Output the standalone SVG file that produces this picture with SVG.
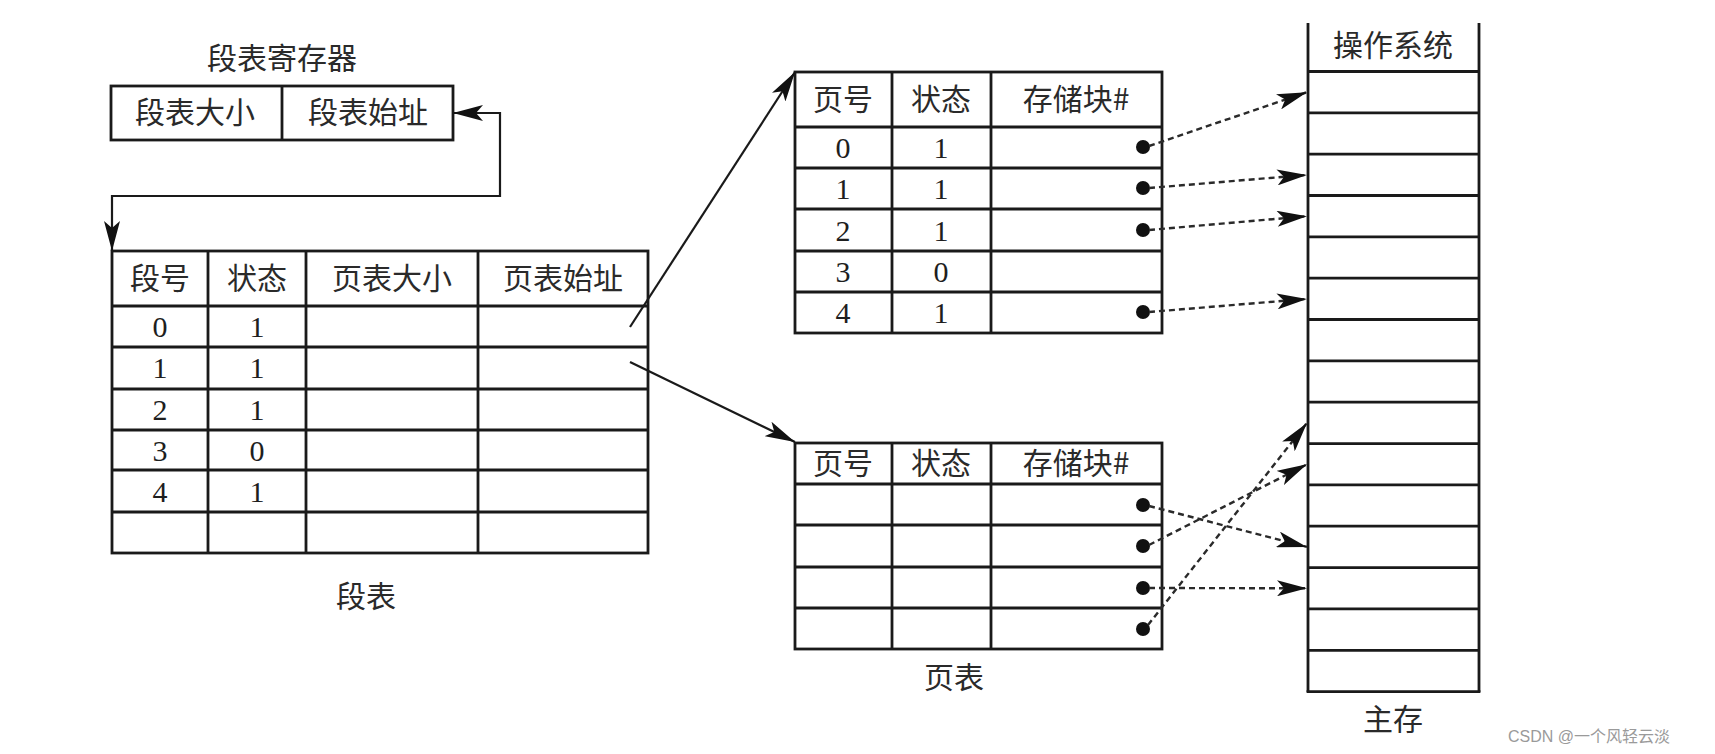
<svg xmlns="http://www.w3.org/2000/svg" width="1715" height="754" viewBox="0 0 1715 754">
<style>
.bg{fill:#ffffff}
.cell{fill:none;stroke:#1a1a1a;stroke-width:2.8}
.ln{stroke:#1a1a1a;stroke-width:2.8}
.cn{font-family:"Noto Sans CJK SC","Noto Sans",sans-serif;font-size:30px;fill:#2a2a2a;text-anchor:middle}
.num{font-family:"Liberation Serif","DejaVu Serif",serif;font-size:30px;fill:#1e1e1e;text-anchor:middle}
.conn{fill:none;stroke:#1a1a1a;stroke-width:2.2}
.dash{fill:none;stroke:#2a2a2a;stroke-width:2.4;stroke-dasharray:6 4}
.dot{fill:#111}
.wm{font-family:"Liberation Sans","Noto Sans CJK SC",sans-serif;font-size:16px;fill:#9a9a9a}
</style>
<defs>
<marker id="ah" viewBox="0 0 30 16" refX="30" refY="8" markerWidth="30" markerHeight="16" markerUnits="userSpaceOnUse" orient="auto-start-reverse">
<path d="M0,0 L30,8 L0,16 L7,8 Z" fill="#111"/>
</marker>
</defs>
<rect class="bg" x="0" y="0" width="1715" height="754"/>

<g id="seg-register">
<text class="cn" x="282" y="69">段表寄存器</text>
<rect class="cell" x="111" y="86" width="342" height="54"/>
<line class="ln" x1="282" y1="86" x2="282" y2="140"/>
<text class="cn" x="195" y="123">段表大小</text>
<text class="cn" x="368" y="123">段表始址</text>
</g>

<g id="seg-table">
<rect class="cell" x="112" y="251" width="536" height="302"/>
<line class="ln" x1="208" y1="251" x2="208" y2="553"/>
<line class="ln" x1="306" y1="251" x2="306" y2="553"/>
<line class="ln" x1="478" y1="251" x2="478" y2="553"/>
<line class="ln" x1="112" y1="306" x2="648" y2="306"/>
<line class="ln" x1="112" y1="347" x2="648" y2="347"/>
<line class="ln" x1="112" y1="389" x2="648" y2="389"/>
<line class="ln" x1="112" y1="430" x2="648" y2="430"/>
<line class="ln" x1="112" y1="470" x2="648" y2="470"/>
<line class="ln" x1="112" y1="512" x2="648" y2="512"/>
<text class="cn" x="160" y="289">段号</text>
<text class="cn" x="257" y="289">状态</text>
<text class="cn" x="392" y="289">页表大小</text>
<text class="cn" x="563" y="289">页表始址</text>
<text class="num" x="160" y="337">0</text><text class="num" x="257" y="337">1</text>
<text class="num" x="160" y="378">1</text><text class="num" x="257" y="378">1</text>
<text class="num" x="160" y="420">2</text><text class="num" x="257" y="420">1</text>
<text class="num" x="160" y="461">3</text><text class="num" x="257" y="461">0</text>
<text class="num" x="160" y="502">4</text><text class="num" x="257" y="502">1</text>
<text class="cn" x="366" y="607">段表</text>
</g>

<g id="page-table-1">
<rect class="cell" x="795" y="72" width="367" height="261"/>
<line class="ln" x1="892" y1="72" x2="892" y2="333"/>
<line class="ln" x1="991" y1="72" x2="991" y2="333"/>
<line class="ln" x1="795" y1="127" x2="1162" y2="127"/>
<line class="ln" x1="795" y1="168" x2="1162" y2="168"/>
<line class="ln" x1="795" y1="209" x2="1162" y2="209"/>
<line class="ln" x1="795" y1="251" x2="1162" y2="251"/>
<line class="ln" x1="795" y1="292" x2="1162" y2="292"/>
<text class="cn" x="843" y="110">页号</text>
<text class="cn" x="941" y="110">状态</text>
<text class="cn" x="1076" y="110">存储块#</text>
<text class="num" x="843" y="158">0</text><text class="num" x="941" y="158">1</text>
<text class="num" x="843" y="199">1</text><text class="num" x="941" y="199">1</text>
<text class="num" x="843" y="241">2</text><text class="num" x="941" y="241">1</text>
<text class="num" x="843" y="282">3</text><text class="num" x="941" y="282">0</text>
<text class="num" x="843" y="323">4</text><text class="num" x="941" y="323">1</text>
<circle class="dot" cx="1143" cy="147" r="7"/>
<circle class="dot" cx="1143" cy="188" r="7"/>
<circle class="dot" cx="1143" cy="230" r="7"/>
<circle class="dot" cx="1143" cy="312" r="7"/>
</g>

<g id="page-table-2">
<rect class="cell" x="795" y="443" width="367" height="206"/>
<line class="ln" x1="892" y1="443" x2="892" y2="649"/>
<line class="ln" x1="991" y1="443" x2="991" y2="649"/>
<line class="ln" x1="795" y1="484" x2="1162" y2="484"/>
<line class="ln" x1="795" y1="525" x2="1162" y2="525"/>
<line class="ln" x1="795" y1="567" x2="1162" y2="567"/>
<line class="ln" x1="795" y1="608" x2="1162" y2="608"/>
<text class="cn" x="843" y="474">页号</text>
<text class="cn" x="941" y="474">状态</text>
<text class="cn" x="1076" y="474">存储块#</text>
<circle class="dot" cx="1143" cy="505" r="7"/>
<circle class="dot" cx="1143" cy="546" r="7"/>
<circle class="dot" cx="1143" cy="588" r="7"/>
<circle class="dot" cx="1143" cy="629" r="7"/>
<text class="cn" x="954" y="688">页表</text>
</g>

<g id="main-memory">
<line class="ln" x1="1308" y1="23" x2="1308" y2="692"/>
<line class="ln" x1="1479" y1="23" x2="1479" y2="692"/>
<text class="cn" x="1393" y="56">操作系统</text>
<line class="ln" x1="1308" y1="71.5" x2="1479" y2="71.5"/>
<line class="ln" x1="1308" y1="112.8" x2="1479" y2="112.8"/>
<line class="ln" x1="1308" y1="154.2" x2="1479" y2="154.2"/>
<line class="ln" x1="1308" y1="195.5" x2="1479" y2="195.5"/>
<line class="ln" x1="1308" y1="236.9" x2="1479" y2="236.9"/>
<line class="ln" x1="1308" y1="278.2" x2="1479" y2="278.2"/>
<line class="ln" x1="1308" y1="319.5" x2="1479" y2="319.5"/>
<line class="ln" x1="1308" y1="360.9" x2="1479" y2="360.9"/>
<line class="ln" x1="1308" y1="402.2" x2="1479" y2="402.2"/>
<line class="ln" x1="1308" y1="443.6" x2="1479" y2="443.6"/>
<line class="ln" x1="1308" y1="484.9" x2="1479" y2="484.9"/>
<line class="ln" x1="1308" y1="526.2" x2="1479" y2="526.2"/>
<line class="ln" x1="1308" y1="567.6" x2="1479" y2="567.6"/>
<line class="ln" x1="1308" y1="608.9" x2="1479" y2="608.9"/>
<line class="ln" x1="1308" y1="650.3" x2="1479" y2="650.3"/>
<line class="ln" x1="1306.6" y1="691.6" x2="1480.4" y2="691.6"/>
<text class="cn" x="1393" y="730">主存</text>
</g>

<g id="connectors">
<path class="conn" d="M453,113 L500,113 L500,196 L112,196 L112,251" marker-start="url(#ah)" marker-end="url(#ah)"/>
<line class="conn" x1="630" y1="327" x2="795" y2="72" marker-end="url(#ah)"/>
<line class="conn" x1="630" y1="362" x2="795" y2="442" marker-end="url(#ah)"/>
<line class="dash" x1="1149" y1="146" x2="1307" y2="92.2" marker-end="url(#ah)"/>
<line class="dash" x1="1149" y1="188" x2="1307" y2="174.9" marker-end="url(#ah)"/>
<line class="dash" x1="1149" y1="230" x2="1307" y2="216.2" marker-end="url(#ah)"/>
<line class="dash" x1="1149" y1="312" x2="1307" y2="298.9" marker-end="url(#ah)"/>
<line class="dash" x1="1149" y1="506" x2="1307" y2="546.9" marker-end="url(#ah)"/>
<line class="dash" x1="1149" y1="545" x2="1307" y2="464.3" marker-end="url(#ah)"/>
<line class="dash" x1="1149" y1="588" x2="1307" y2="588.3" marker-end="url(#ah)"/>
<line class="dash" x1="1148" y1="625" x2="1307" y2="422.9" marker-end="url(#ah)"/>
</g>

<text class="wm" x="1508" y="742">CSDN @一个风轻云淡</text>
</svg>
